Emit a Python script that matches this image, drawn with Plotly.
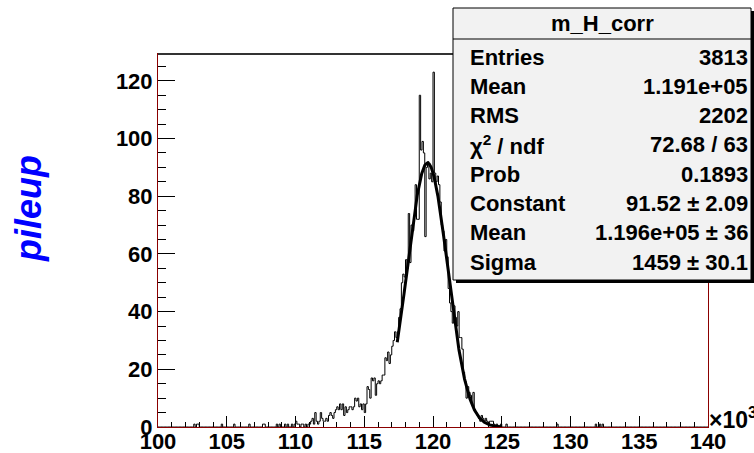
import numpy as np
import plotly.graph_objects as go

# ---------------- data ----------------
x_min, x_max, n_bins = 100.0, 140.0, 400   # in units of 10^3
counts = [0] * n_bins
sparse_tail = {26: 1, 28: 1, 29: 1, 46: 1, 55: 1, 66: 1, 76: 1, 77: 1,
               86: 1, 88: 1, 92: 1, 94: 1, 97: 1, 99: 1,
               290: 1, 318: 1, 321: 1, 323: 1}
core_start = 100
core_counts = [
    2, 1, 1, 0, 1, 1, 0,                 # 100-106
    1, 0, 1, 1, 2,                       # 107-111
    3, 1, 5, 2, 1, 2, 5, 3,              # 112-119
    2, 2, 3, 2,                          # 120-123
    4, 5, 4, 3, 5, 6,                    # 124-129
    7, 6, 8, 6,                          # 130-133
    8, 4, 7, 5,                          # 134-137
    6, 7, 7, 6, 7,                       # 138-142
    10, 9, 10,                           # 143-145
    7, 8, 6, 8, 5, 8,                    # 146-151
    14, 13, 10,                          # 152-154
    17, 16, 17, 11,                      # 155-158
    15, 16, 15, 16,                      # 159-162
    18, 18, 24, 23,                      # 163-166
    26, 22, 25, 28, 30,                  # 167-171
    33, 31, 33, 38, 41,                  # 172-176
    50, 53, 52, 58, 55,                  # 177-181
    74, 57, 70, 68, 73, 84, 72,          # 182-188
    72, 115, 96, 99, 95, 66,             # 189-194
    90, 92, 86, 88, 85,                  # 195-199
    123, 88, 85, 87, 84,                 # 200-204
    78, 70, 68, 61, 65, 59, 48,          # 205-211
    43, 40, 36, 42, 38, 35, 40, 31,      # 212-219
    31, 27, 19, 16, 10, 14, 12,          # 220-226
    11, 8, 12, 6, 5,                     # 227-231
    4, 3, 2, 4, 3, 2, 3, 2, 1, 2, 2, 2,  # 232-243
    1, 0, 1, 0, 0, 1, 0, 0, 0, 1,        # 244-253
]
for i, v in enumerate(core_counts):
    counts[core_start + i] = v
for k, v in sparse_tail.items():
    counts[k] = v

fit_const, fit_mean, fit_sigma = 91.52, 119.6, 1.459   # mean/sigma in 10^3
fit_lo, fit_hi = 117.4, 125.0

stats_title = "m_H_corr"
stats_labels = ["Entries", "Mean", "RMS", "χ<sup>2</sup> / ndf", "Prob",
                "Constant", "Mean", "Sigma"]
stats_values = ["3813", "1.191e+05", "2202", "72.68 / 63", "0.1893",
                "91.52 ± 2.09", "1.196e+05 ± 36", "1459 ± 30.1"]

x_ticks = [100, 105, 110, 115, 120, 125, 130, 135, 140]
y_ticks = [0, 20, 40, 60, 80, 100, 120]
y_top = 129.3

# ---------------- geometry ----------------
W, H = 754, 453
PL, PR, PT, PB = 158, 708, 54, 427


def fx(X):
    return (X - PL) / (PR - PL)


def fy(Y):
    return (PB - Y) / (PB - PT)


FONT = "Liberation Sans, Arial, Helvetica, sans-serif"
DARKRED = "#8b0000"

edges = np.linspace(x_min, x_max, n_bins + 1)
hx = list(edges[:-1]) + [edges[-1]]
hy = list(counts) + [counts[-1]]

fx_curve = np.linspace(fit_lo, fit_hi, 400)
fy_curve = fit_const * np.exp(-0.5 * ((fx_curve - fit_mean) / fit_sigma) ** 2)

fig = go.Figure()
fig.add_trace(go.Scatter(x=hx, y=hy, mode="lines", line_shape="hv",
                         line=dict(color="black", width=1), hoverinfo="skip"))
fig.add_trace(go.Scatter(x=fx_curve, y=fy_curve, mode="lines",
                         line=dict(color="black", width=3), hoverinfo="skip"))

tickfont = dict(family=FONT, size=22, color="black", weight="bold")
fig.update_layout(
    width=W, height=H, showlegend=False,
    paper_bgcolor="white", plot_bgcolor="white",
    margin=dict(l=PL, r=W - PR, t=PT, b=H - PB, pad=0, autoexpand=False),
    xaxis=dict(range=[x_min, x_max], tickvals=x_ticks,
               ticktext=[str(t) for t in x_ticks], automargin=False,
               ticks="inside", ticklen=11, tickcolor="black", tickwidth=1,
               minor=dict(dtick=1, ticks="inside", ticklen=5, tickcolor="black"),
               showgrid=False, zeroline=False, showline=True,
               linecolor=DARKRED, linewidth=1, mirror=True,
               tickfont=tickfont, ticklabelstandoff=-5),
    yaxis=dict(range=[0, y_top], tickvals=y_ticks,
               ticktext=[str(t) for t in y_ticks], automargin=False,
               ticks="inside", ticklen=17, tickcolor="black", tickwidth=1,
               minor=dict(dtick=5, ticks="inside", ticklen=8, tickcolor="black"),
               showgrid=False, zeroline=False, showline=True,
               linecolor=DARKRED, linewidth=1, mirror=True,
               tickfont=tickfont, ticklabelstandoff=0),
)

shapes = []
# top frame edge drawn dark as in the reference
shapes.append(dict(type="line", xref="paper", yref="paper",
                   x0=0, x1=1, y0=1, y1=1,
                   line=dict(color="#333333", width=2), layer="above"))
# stats box shadow + box
bx0, bx1, by0, by1 = 453, 751, 8, 280
shapes.append(dict(type="rect", xref="paper", yref="paper",
                   x0=fx(bx0 + 3), x1=fx(bx1 + 3), y0=fy(by1 + 3), y1=fy(by0 + 3),
                   fillcolor="black", line=dict(width=0), layer="above"))
shapes.append(dict(type="rect", xref="paper", yref="paper",
                   x0=fx(bx0), x1=fx(bx1), y0=fy(by1), y1=fy(by0),
                   fillcolor="#f2f2f2", line=dict(color="black", width=1),
                   layer="above"))
shapes.append(dict(type="line", xref="paper", yref="paper",
                   x0=fx(bx0), x1=fx(bx1), y0=fy(39), y1=fy(39),
                   line=dict(color="black", width=1), layer="above"))
fig.update_layout(shapes=shapes)

sfont = dict(family=FONT, size=22, color="black", weight="bold")
ann = []
ann.append(dict(text=stats_title, xref="paper", yref="paper",
                x=fx((bx0 + bx1) / 2), y=fy(24), xanchor="center",
                yanchor="middle", showarrow=False, font=sfont))
for i, (lab, val) in enumerate(zip(stats_labels, stats_values)):
    Y = 57 + 29.3 * i
    ann.append(dict(text=lab, xref="paper", yref="paper", x=fx(468),
                    y=fy(Y), xanchor="left", yanchor="middle",
                    showarrow=False, font=sfont))
    ann.append(dict(text=val, xref="paper", yref="paper", x=fx(750),
                    y=fy(Y), xanchor="right", yanchor="middle",
                    showarrow=False, font=sfont))
# y title
ann.append(dict(text="pileup", xref="paper", yref="paper", x=fx(28),
                y=fy(209), xanchor="center", yanchor="middle",
                textangle=-90, showarrow=False,
                font=dict(family=FONT, size=36, color="#0000ff",
                          weight="bold", style="italic")))
# x exponent
ann.append(dict(text="×10<sup>3</sup>", xref="paper", yref="paper",
                x=fx(707), y=fy(418), xanchor="left", yanchor="middle",
                showarrow=False,
                font=dict(family=FONT, size=23, color="black", weight="bold")))
fig.update_layout(annotations=ann)

fig.write_html("out.html")
